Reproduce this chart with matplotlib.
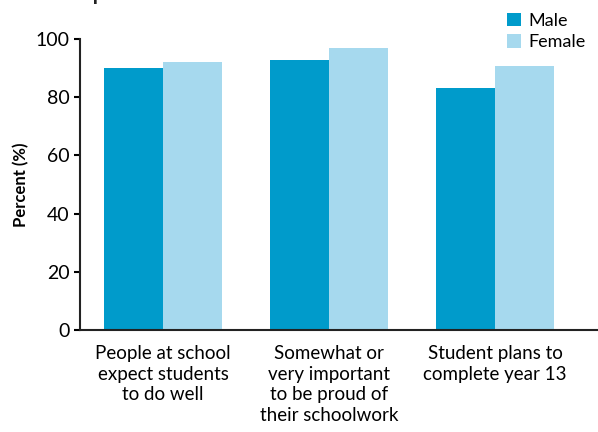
import numpy as np
import matplotlib
matplotlib.use("Agg")
import matplotlib.pyplot as plt

plt.rcParams['font.family'] = ['Lato', 'DejaVu Sans']

categories = ["People at school\nexpect students\nto do well",
              "Somewhat or\nvery important\nto be proud of\ntheir schoolwork",
              "Student plans to\ncomplete year 13"]
male = [90.0, 92.8, 83.1]
female = [92.1, 96.8, 90.7]
yticks = [0, 20, 40, 60, 80, 100]

MALE_COL = "#009bcb"
FEMALE_COL = "#a6d9ee"

fig = plt.figure(figsize=(5.98, 4.32), dpi=100)
ax = fig.add_axes([0.134, 0.236, 0.866, 0.674])

x = np.arange(len(categories))
w = 0.357
ax.bar(x - w / 2, male, w, color=MALE_COL, label="Male")
ax.bar(x + w / 2, female, w, color=FEMALE_COL, label="Female")

ax.set_xlim(-0.5, 2.62)
ax.set_ylim(0, 100)
ax.set_yticks(yticks)
ax.set_xticks(x)
ax.set_xticklabels(categories, fontsize=13.5, linespacing=1.25)
ax.tick_params(axis='x', length=0, pad=11)
ax.tick_params(axis='y', labelsize=14, length=4, width=1.5, direction='out')

for s in ['top', 'right']:
    ax.spines[s].set_visible(False)
for s in ['left', 'bottom']:
    ax.spines[s].set_linewidth(1.5)
    ax.spines[s].set_color('#222222')

ax.set_ylabel("Percent (%)", fontsize=12, fontweight='bold', labelpad=5)

# title sits mostly above the top edge
fig.text(0.117, 0.9995, "Expectations and achievements", fontsize=15,
         fontweight='bold', color='#222222', ha='left', va='baseline')

ax.legend(loc='upper left', bbox_to_anchor=(0.81, 1.115), frameon=False,
          fontsize=13, handlelength=0.8, handleheight=0.8, handletextpad=0.4,
          labelspacing=0.3, borderaxespad=0)

fig.savefig("out.png", dpi=100)
